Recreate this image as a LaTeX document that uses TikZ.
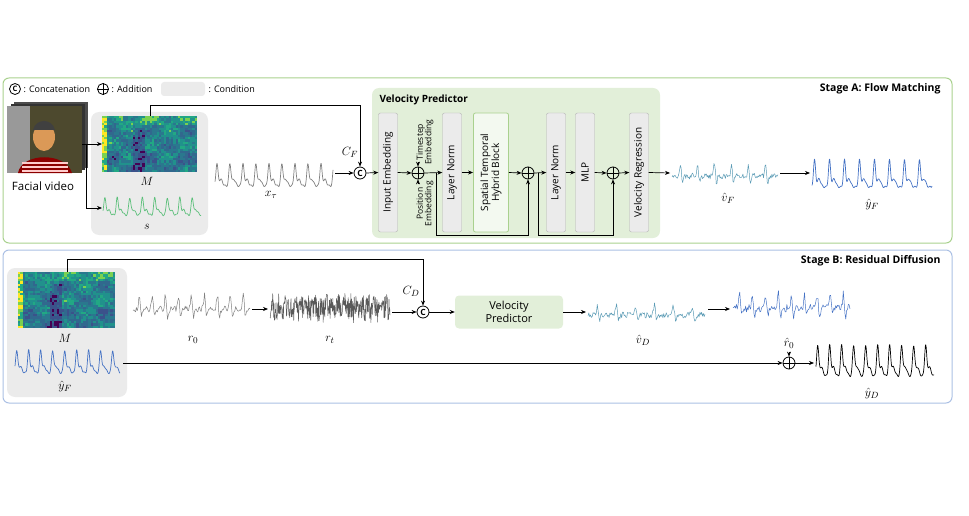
\documentclass[tikz,border=0pt]{standalone}
\usepackage{fontspec}
\setmainfont{Open Sans}
\usetikzlibrary{arrows.meta}
\definecolor{w1}{HTML}{440154}\definecolor{w2}{HTML}{3B528B}\definecolor{w3}{HTML}{31688E}
\definecolor{w4}{HTML}{2A788E}\definecolor{w5}{HTML}{21918C}\definecolor{w6}{HTML}{22A884}
\definecolor{w7}{HTML}{7AD151}\definecolor{w8}{HTML}{FDE725}
\definecolor{condg}{HTML}{EBEBEB}\definecolor{vpg}{HTML}{E2EFD9}\definecolor{vpb}{HTML}{A9D18E}
\definecolor{sigblue}{HTML}{4472C4}\definecolor{sigcyan}{HTML}{5B9BB5}\definecolor{sigg}{HTML}{5CBF7A}
\newcommand{\myheat}[4]{%
  \foreach \i in {0,...,39}{\foreach \j in {0,...,23}{%
    \pgfmathsetmacro{\vv}{4.3+1.2*sin(\i*23)*cos(\j*31)+1.3*rand
      +(\i<2)*3+(\j<4)*(\i>6)*1.2-(\i>12)*(\i<18)*(\j>4)*1.8-(\j>15)*0.6}%
    \pgfmathsetmacro{\cc}{int(max(1,min(8,round(\vv))))}%
    \fill[w\cc] ({#1+\i*#3/40},{#2+\j*#4/24}) rectangle ++({#3/40+0.3},{#4/24+0.3});}}}
\newcommand{\myppg}[6]{% x0 ybase width period amp color
  \draw[#6,line width=0.7pt,line join=round] plot[domain=0:#3,samples=300]
   (\x+#1,{#2-#5*(exp(-((mod(\x+2,#4)-0.3*#4)^2)/2.2)+0.3*exp(-((mod(\x+2,#4)-0.6*#4)^2)/6))+0.8*sin(\x*97)});}
\newcommand{\mynoise}[8]{% x0 y width noiseamp spike period color samples
  \draw[#7,line width=0.5pt,line join=round] plot[domain=0:#3,samples=#8]
   (\x+#1,{#2+#4*rand-#5*exp(-((mod(\x,#6)-0.5*#6)^2)/1.5)+0.6*#5*exp(-((mod(\x,#6)-0.5*#6-2)^2)/1.5)});}
\tikzset{
  arr/.style={-{Stealth[length=5pt,width=4pt]},line width=0.7pt},
  blk/.style={draw=gray!60,fill=condg,rounded corners=2pt,rotate=90,minimum width=119pt,minimum height=19pt,inner sep=0pt,font=\fontsize{10}{11}\selectfont},
  opc/.style={circle,draw,line width=0.8pt,minimum size=12pt,inner sep=0pt},
  lab/.style={font=\fontsize{13}{14}\selectfont},
  emb/.style={rotate=90,font=\fontsize{8.5}{8.5}\selectfont,align=center,inner sep=0pt},
  leg/.style={anchor=west,font=\fontsize{9}{10}\selectfont}
}
\newcommand{\addsym}[1]{\draw[line width=0.8pt] (#1.north)--(#1.south) (#1.west)--(#1.east);}
\begin{document}
\begin{tikzpicture}[x=1pt,y=-1pt]
\pgfmathsetseed{7}
\useasboundingbox (0,0) rectangle (969,516);
\draw[draw=vpb,line width=1pt,rounded corners=6pt] (3,78) rectangle (952,243);
\draw[draw=sigblue!45,line width=1pt,rounded corners=6pt] (3,250) rectangle (952,403);
\node[anchor=east,font=\bfseries\fontsize{10.5}{12}\selectfont] (sa) at (944,89) {Stage A: Flow Matching};
\node[anchor=east,font=\bfseries\fontsize{10.5}{12}\selectfont] (sb) at (944,261) {Stage B: Residual Diffusion};
\node[opc,minimum size=11pt,font=\fontsize{7.5}{7}\selectfont\bfseries] (lc) at (15,89) {C};
\node[leg] (lct) at (20,89) {: Concatenation};
\node[opc,minimum size=11pt] (la) at (103,89) {};\addsym{la}
\node[leg] (lat) at (108,89) {: Addition};
\node[fill=condg,rounded corners=3pt,minimum width=44pt,minimum height=14pt] (lg) at (183,89) {};
\node[leg] (lgt) at (205,89) {: Condition};
\fill[black!70] (14,102) rectangle (88,168);
\fill[black!80] (11,104) rectangle (85,170);
\fill[black!60!olive] (7,106) rectangle (82,173);
\fill[black!40] (7,106) rectangle (30,173);
\fill[red!55!black] (18,173) .. controls (22,152) and (66,152) .. (72,173) -- cycle;
\foreach \k in {0,1,2}{\draw[white!80!red,line width=1.5pt] (22,{163+\k*4}) -- (68,{163+\k*4});}
\fill[brown!70!orange!80] (44,137) ellipse (11pt and 14pt);
\fill[black!75] (33,130) .. controls (36,118) and (52,118) .. (55,130) -- cycle;
\node[font=\fontsize{11.5}{13}\selectfont] (fv) at (43,186) {Facial video};
\coordinate (face) at (82,144);
\fill[condg,rounded corners=8pt] (91,112) rectangle (208,235);
\myheat{102}{116}{95}{56}
\node[inner sep=0pt,minimum width=95pt,minimum height=56pt,anchor=north west] (MA) at (102,116) {};
\node[lab] (MAl) at (147,181) {$M$};
\myppg{103}{215}{98}{12.5}{17}{sigg}
\coordinate (sA) at (102,208);
\node[lab] (sAl) at (147,227) {$s$};
\draw[arr] (face) -- (MA.west|-face);
\draw[arr] (86,144) |- (sA);
\myppg{215}{186}{118}{13}{22}{gray}
\node[lab] (xt) at (271,195) {$x_\tau$};
\node[opc,font=\fontsize{8.5}{8}\selectfont\bfseries] (cA) at (360,173) {C};
\node[lab] (CF) at (350,152) {$C_F$};
\draw[arr] (150,116) -- (150,105) -| (cA.north);
\draw[arr] (335,173) -- (cA.west);
\fill[vpg,rounded corners=7pt] (372,88) rectangle (660,238);
\node[anchor=west,font=\bfseries\fontsize{10}{11}\selectfont] (vpt) at (376,100) {Velocity Predictor};
\node[blk] (ie) at (388,172.5) {Input Embedding};
\node[opc] (a1) at (418,173) {};\addsym{a1}
\node[emb,anchor=west] (te) at (425,165) {Timestep\\Embedding};
\node[emb,anchor=east] (pe) at (425,181) {Position\\Embedding};
\node[blk] (ln1) at (452,172.5) {Layer Norm};
\node[blk,minimum height=35pt,draw=vpb,fill=white!60!vpg,line width=0.8pt,align=center] (st) at (491,172.5) {Spatial Temporal\\Hybrid Block};
\node[opc] (a2) at (528,173) {};\addsym{a2}
\node[blk] (ln2) at (556,172.5) {Layer Norm};
\node[blk] (mlp) at (585,172.5) {MLP};
\node[opc] (a3) at (613,173) {};\addsym{a3}
\node[blk] (vr) at (639,172.5) {Velocity Regression};
\draw[arr] (cA.east) -- (ie.north);
\draw[arr] (ie.south) -- (a1.west);
\draw[arr] (418,162) -- (a1.north);
\draw[arr] (418,184) -- (a1.south);
\draw[arr] (a1.east) -- (ln1.north);
\draw[arr] (ln1.south) -- (st.north);
\draw[arr] (st.south) -- (a2.west);
\draw[arr] (a2.east) -- (ln2.north);
\draw[arr] (ln2.south) -- (mlp.north);
\draw[arr] (mlp.south) -- (a3.west);
\draw[arr] (a3.east) -- (vr.north);
\draw[arr] (436,173) -- (436,235) -| (a2.south);
\draw[arr] (538,173) -- (538,235) -| (a3.south);
\coordinate (vFin) at (670,173);
\draw[arr] (vr.south) -- (vFin);
\mynoise{672}{176}{106}{3}{12}{17}{sigcyan}{140}
\node[lab] (vF) at (728,198) {$\hat v_F$};
\draw[arr] (780,173) -- (810,173);
\myppg{812}{187}{120}{15}{27}{sigblue}
\node[lab] (yF) at (872,204) {$\hat y_F$};
\fill[condg,rounded corners=8pt] (7,268) rectangle (127,397);
\myheat{18}{272}{97}{56}
\node[inner sep=0pt,minimum width=97pt,minimum height=56pt,anchor=north west] (MB) at (18,272) {};
\node[lab] (MBl) at (65,338) {$M$};
\myppg{15}{373}{105}{12}{22}{sigblue}
\node[lab] (yFB) at (65,386) {$\hat y_F$};
\mynoise{133}{309}{117}{3}{14}{13}{gray}{140}
\node[lab] (r0) at (193,340) {$r_0$};
\draw[arr] (252,309) -- (268,309);
\mynoise{270}{309}{120}{12}{4}{6}{gray!70!black}{360}
\node[lab] (rt) at (330,340) {$r_t$};
\node[opc,font=\fontsize{8.5}{8}\selectfont\bfseries] (cB) at (423,312) {C};
\node[lab] (CD) at (411,291) {$C_D$};
\draw[arr] (392,312) -- (cB.west);
\draw[arr] (67,272) -- (67,259) -| (cB.north);
\node[fill=vpg,rounded corners=4pt,minimum width=108pt,minimum height=33pt,align=center,font=\fontsize{11}{13}\selectfont] (vpB) at (509,312) {Velocity\\Predictor};
\draw[arr] (cB.east) -- (vpB.west);
\draw[arr] (vpB.east) -- (586,312);
\mynoise{588}{315}{117}{3}{10}{19}{sigcyan}{140}
\node[lab] (vD) at (643,340) {$\hat v_D$};
\draw[arr] (708,309) -- (730,309);
\mynoise{733}{308}{117}{4}{14}{13}{sigblue}{140}
\node[lab] (r0h) at (789,343) {$\hat r_0$};
\node[opc] (a4) at (789,363) {};\addsym{a4}
\draw[arr] (r0h.south) -- (a4.north);
\draw[arr] (123,363) -- (a4.west);
\draw[arr] (a4.east) -- (814,363);
\myppg{816}{376}{118}{12}{30}{black}
\node[lab] (yD) at (872,393) {$\hat y_D$};
\end{tikzpicture}
\end{document}
